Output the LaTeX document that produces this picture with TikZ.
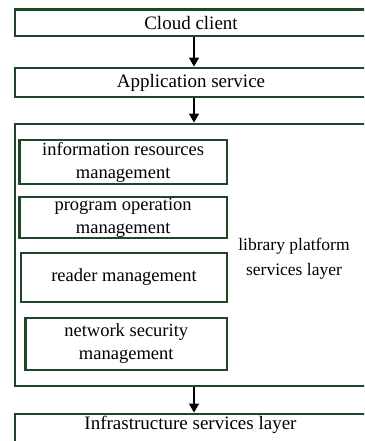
\documentclass[tikz,border=0pt]{standalone}
\usepackage{fontspec}
\setmainfont{Liberation Serif}
\usetikzlibrary{arrows.meta}
\definecolor{boxgreen}{RGB}{28,72,40}
\begin{document}
\begin{tikzpicture}[x=1pt,y=-1pt,
  layer/.style={draw=boxgreen, line width=2.6pt, fill=white, inner sep=0pt,
    font=\fontsize{19}{23}\selectfont, align=center},
  inner/.style={draw=boxgreen, line width=2.6pt, inner sep=0pt,
    font=\fontsize{18.5}{23}\selectfont, align=center},
  arr/.style={line width=2.6pt, -{Triangle[length=9pt,width=9.5pt]}}]
\useasboundingbox (0,0) rectangle (364,441);
\begin{scope}
\clip (0,0) rectangle (364,441);
% outer layers
\node[layer, minimum width=352pt, minimum height=26.7pt] (cloud) at (191,22.65) {Cloud client};
\node[layer, minimum width=352pt, minimum height=29pt] (app) at (191,82.5) {Application service};
\node[layer, minimum width=352pt, minimum height=262pt] (plat) at (191,255) {};
\node[layer, minimum width=352pt, minimum height=34pt] (infra) at (191,431) {};
\node[font=\fontsize{19}{23}\selectfont, inner sep=0pt] (infratext) at (190.5,425) {Infrastructure services layer};
% inner boxes
\node[inner, minimum width=207.7pt, minimum height=44pt] (irm) at (123.15,162) {information resources\\management};
\node[inner, minimum width=207.7pt, minimum height=41pt] (pom) at (123.15,217.5) {program operation\\management};
\node[inner, minimum width=206pt, minimum height=49pt] (rm) at (124,277.5) {reader management};
\node[inner, minimum width=201.5pt, minimum height=52pt] (nsm) at (126.25,344) {network security\\management};
\node[font=\fontsize{17.5}{25}\selectfont, align=center, inner sep=0pt] (lbl) at (294,259) {library platform\\services layer};
% arrows
\coordinate (ax) at (194,0);
\draw[arr] (cloud.south -| ax) -- (app.north -| ax);
\draw[arr] (app.south -| ax) -- (plat.north -| ax);
\draw[arr] (plat.south -| ax) -- (infra.north -| ax);
\end{scope}
\end{tikzpicture}
\end{document}
